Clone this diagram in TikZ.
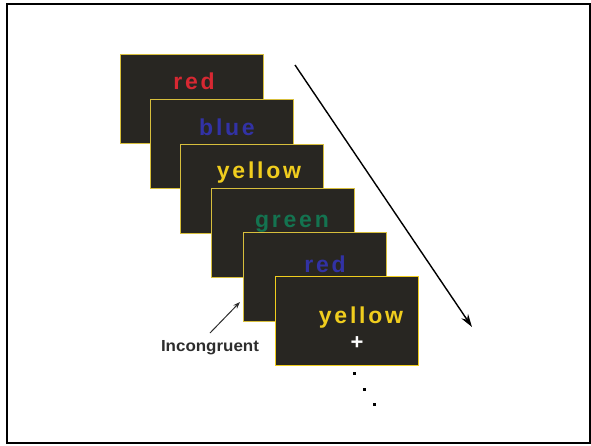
\documentclass[tikz,border=0pt]{standalone}
\usepackage{fontspec}
\usetikzlibrary{arrows.meta}
\newfontfamily\wordfont{Liberation Sans}[LetterSpace=12]
\newfontfamily\labelfont{Liberation Sans}
\definecolor{cardfill}{RGB}{40,38,34}
\definecolor{cardedge}{RGB}{215,190,60}
\definecolor{wred}{RGB}{215,40,50}
\definecolor{wblue}{RGB}{50,50,165}
\definecolor{wyellow}{RGB}{240,205,30}
\definecolor{wgreen}{RGB}{20,115,80}
\definecolor{labelgray}{RGB}{45,45,45}
\tikzset{
  card/.style={draw=cardedge, fill=cardfill, line width=1.1pt, minimum width=143pt, minimum height=89pt, anchor=north west, inner sep=0pt},
  word/.style={font=\wordfont\bfseries\fontsize{23}{27}\selectfont, anchor=base, inner sep=0pt},
  dotbox/.style={fill=black, minimum size=3pt, inner sep=0pt},
}
\begin{document}
\begin{tikzpicture}[x=1pt,y=-1pt]
\useasboundingbox (0,0) rectangle (591,445);
\draw[line width=2pt] (7,4) rectangle (590,443);
% cards
\node[card] (c1) at (120,54) {};
\node[word, text=wred] (w1) at (194,89) {red};
\node[card] (c2) at (150,99) {};
\node[word, text=wblue] (w2) at (227,135) {blue};
\node[card] (c3) at (180,144) {};
\node[word, text=wyellow] (w3) at (259,178) {yellow};
\node[card] (c4) at (211,188) {};
\node[word, text=wgreen] (w4) at (292,227) {green};
\node[card] (c5) at (243,232) {};
\node[word, text=wblue] (w5) at (325,272) {red};
\node[card, draw=wyellow] (c6) at (275,276) {};
\node[word, text=wyellow] (w6) at (361,323) {yellow};
\node[font=\labelfont\bfseries\fontsize{22}{26}\selectfont, text=white, inner sep=0pt] (plus) at (357,343) {+};
% time arrow
\coordinate (tstart) at (295,65);
\coordinate (tend) at (472,327);
\draw[line width=1.4pt, -{Stealth[length=13pt,width=8pt]}] (tstart) -- (tend);
% incongruent label
\node[font=\labelfont\bfseries\fontsize{16}{20}\selectfont, text=labelgray, anchor=base, inner sep=0pt] (inc) at (210,351) {\scalebox{1.06}[1]{Incongruent}};
\coordinate (inctail) at (210,333);
\coordinate (inctip) at (240,302);
\draw[line width=1pt, labelgray, -{Stealth[length=7pt,width=5pt]}] (inctail) -- (inctip);
% dots
\node[dotbox] (d1) at (354,373) {};
\node[dotbox] (d2) at (364,389) {};
\node[dotbox] (d3) at (374,404) {};
\end{tikzpicture}
\end{document}
